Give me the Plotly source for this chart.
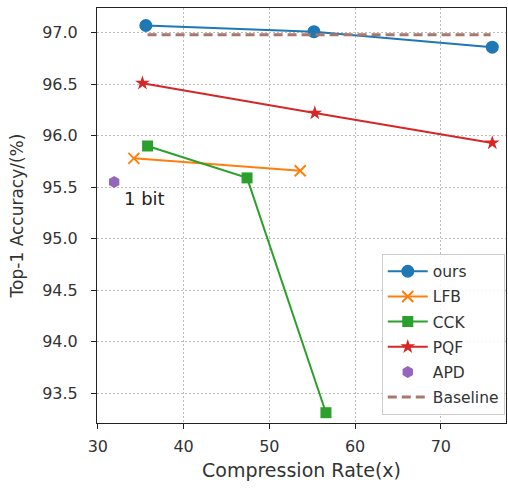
import plotly.graph_objects as go

ours_x = [35.6, 55.2, 76.0]
ours_y = [97.07, 97.01, 96.86]
lfb_x = [34.2, 53.6]
lfb_y = [95.78, 95.66]
cck_x = [35.8, 47.4, 56.6]
cck_y = [95.90, 95.59, 93.31]
pqf_x = [35.2, 55.3, 76.0]
pqf_y = [96.51, 96.22, 95.93]
apd_x = [31.9]
apd_y = [95.55]
base_x = [35.8, 75.8]
base_y = [96.98, 96.98]

xticks = [30, 40, 50, 60, 70]
yticks = [93.5, 94.0, 94.5, 95.0, 95.5, 96.0, 96.5, 97.0]

FONT = "DejaVu Sans"
fig = go.Figure()
fig.add_trace(go.Scatter(x=ours_x, y=ours_y, name="ours", mode="lines+markers", legendgroup="a",
                         line=dict(color="#1f77b4", width=2),
                         marker=dict(symbol="circle", size=13, color="#1f77b4")))
fig.add_trace(go.Scatter(x=lfb_x, y=lfb_y, name="LFB", mode="lines+markers", legendgroup="b",
                         line=dict(color="#ff7f0e", width=2),
                         marker=dict(symbol="x-thin", size=11, color="#ff7f0e",
                                     line=dict(color="#ff7f0e", width=2))))
fig.add_trace(go.Scatter(x=cck_x, y=cck_y, name="CCK", mode="lines+markers", legendgroup="c",
                         line=dict(color="#2ca02c", width=2),
                         marker=dict(symbol="square", size=11, color="#2ca02c")))
fig.add_trace(go.Scatter(x=pqf_x, y=pqf_y, name="PQF", mode="lines+markers", legendgroup="d",
                         line=dict(color="#d62728", width=2),
                         marker=dict(symbol="star", size=11, color="#d62728")))
fig.add_trace(go.Scatter(x=apd_x, y=apd_y, name="APD", mode="markers", legendgroup="e",
                         marker=dict(symbol="hexagon", size=12, color="#9467bd")))
fig.add_trace(go.Scatter(x=base_x, y=base_y, name="Baseline", mode="lines", legendgroup="f",
                         line=dict(color="#a9776c", width=3, dash="9px,5px")))

fig.add_annotation(x=apd_x[0] + 0.9, y=apd_y[0] - 0.042, text="1 bit", showarrow=False,
                   xanchor="left", yanchor="top", font=dict(family=FONT, size=18, color="#222"))

axis_common = dict(showline=True, linecolor="#222", linewidth=1, mirror=True,
                   ticks="outside", ticklen=5, tickcolor="#222",
                   showgrid=True, gridcolor="#bdbdbd", griddash="1.5px,2.5px", gridwidth=1,
                   zeroline=False, tickfont=dict(family=FONT, size=16, color="#333"))

fig.update_xaxes(range=[29.9, 77.6], tickvals=xticks, ticklabelstandoff=4,
                 title=dict(text="Compression Rate(x)", font=dict(family=FONT, size=19, color="#333"), standoff=8),
                 **axis_common)
fig.update_yaxes(range=[93.21, 97.24], tickvals=yticks, ticktext=[f"{v:.1f}" for v in yticks],
                 ticklabelstandoff=10,
                 title=dict(text="Top-1 Accuracy/(%)", font=dict(family=FONT, size=17, color="#333"), standoff=14),
                 **axis_common)

fig.update_layout(width=508, height=492, margin=dict(l=97, r=2, t=8, b=69),
                  plot_bgcolor="white", paper_bgcolor="white",
                  legend=dict(x=0.997, y=0.02, xanchor="right", yanchor="bottom",
                              bordercolor="#cccccc", borderwidth=1, bgcolor="rgba(255,255,255,0.85)",
                              font=dict(family=FONT, size=15.5, color="#333"),
                              tracegroupgap=2, itemwidth=40))

fig.write_html("out.html")
